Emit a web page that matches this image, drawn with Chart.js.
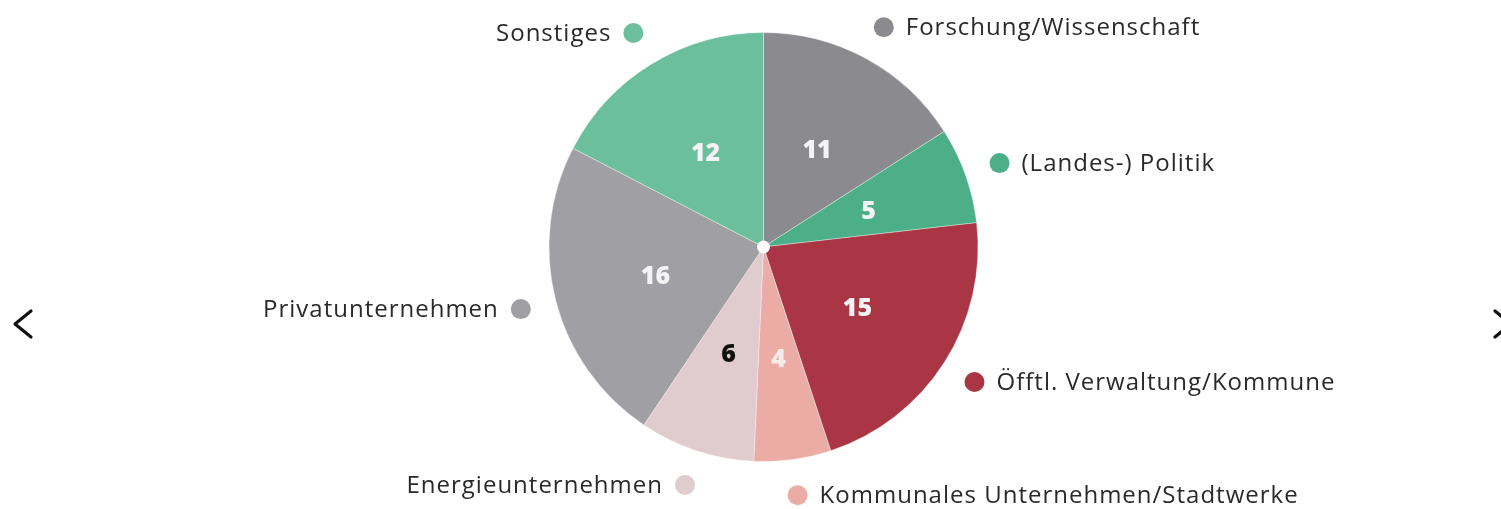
<!DOCTYPE html>
<html>
<head>
<meta charset="utf-8">
<script src="https://cdn.jsdelivr.net/npm/chart.js@4/dist/chart.umd.min.js"></script>
<style>
  html, body { margin: 0; padding: 0; background: #fff; overflow: hidden; }
  #wrap { position: relative; width: 1501px; height: 509px; }
  canvas { position: absolute; left: 0; top: 0; }
  svg.nav { position: absolute; top: 0; left: 0; }
</style>
</head>
<body>
<div id="wrap">
  <canvas id="c" width="1501" height="509"></canvas>
  <svg class="nav" width="1501" height="509">
    <polyline points="31,311 15,324 31,337" fill="none" stroke="#111" stroke-width="3.2" stroke-linecap="round" stroke-linejoin="round"/>
    <polyline points="1495,311 1511,324 1495,337" fill="none" stroke="#111" stroke-width="3.2" stroke-linecap="round" stroke-linejoin="round"/>
  </svg>
</div>
<script>
const categories = [
  'Forschung/Wissenschaft',
  '(Landes-) Politik',
  'Öfftl. Verwaltung/Kommune',
  'Kommunales Unternehmen/Stadtwerke',
  'Energieunternehmen',
  'Privatunternehmen',
  'Sonstiges'
];
const values = [11, 5, 15, 4, 6, 16, 12];
const sliceColors = ['#8b8a8e', '#4caf87', '#a93545', '#eaaca4', '#e0cbcf', '#a09fa3', '#6bbf9c'];
const valueLabelColors = ['#f4f4f4', '#f4f4f4', '#f4f4f4', '#f6ece9', '#111111', '#f4f4f4', '#f4f4f4'];

const FONT = '"Open Sans", "DejaVu Sans", sans-serif';

const labelPlugin = {
  id: 'sliceLabels',
  afterDatasetsDraw(chart) {
    const ctx = chart.ctx;
    const meta = chart.getDatasetMeta(0);
    ctx.save();
    meta.data.forEach((arc, i) => {
      const p = arc.getProps(['x', 'y', 'startAngle', 'endAngle', 'outerRadius'], true);
      const mid = (p.startAngle + p.endAngle) / 2;
      const cos = Math.cos(mid), sin = Math.sin(mid);
      // inner value
      const ri = p.outerRadius * 0.52;
      ctx.letterSpacing = '0px';
      ctx.font = '800 25px ' + FONT;
      ctx.fillStyle = valueLabelColors[i];
      ctx.textAlign = 'center';
      ctx.textBaseline = 'middle';
      ctx.fillText(String(values[i]), p.x + cos * ri, p.y + sin * ri + 2);
      // outer dot and label
      const ro = p.outerRadius + 36;
      const dx = p.x + cos * ro, dy = p.y + sin * ro;
      ctx.beginPath();
      ctx.arc(dx, dy, 10, 0, Math.PI * 2);
      ctx.fillStyle = sliceColors[i];
      ctx.fill();
      ctx.font = '400 24px ' + FONT;
      ctx.letterSpacing = '1px';
      ctx.fillStyle = '#2a2a2a';
      ctx.textBaseline = 'middle';
      if (cos >= 0) {
        ctx.textAlign = 'left';
        ctx.fillText(categories[i], dx + 22, dy + 1);
      } else {
        ctx.textAlign = 'right';
        ctx.fillText(categories[i], dx - 22, dy + 1);
      }
    });
    // center dot
    const a0 = meta.data[0];
    ctx.beginPath();
    ctx.arc(a0.x, a0.y, 6.5, 0, Math.PI * 2);
    ctx.fillStyle = '#ffffff';
    ctx.fill();
    ctx.restore();
  }
};

new Chart(document.getElementById('c'), {
  type: 'pie',
  data: {
    labels: categories,
    datasets: [{
      data: values,
      backgroundColor: sliceColors,
      borderColor: 'rgba(255,255,255,0.35)',
      borderWidth: 1
    }]
  },
  options: {
    responsive: false,
    animation: false,
    layout: { padding: { left: 548, right: 522, top: 32, bottom: 47 } },
    plugins: {
      legend: { display: false },
      tooltip: { enabled: false }
    }
  },
  plugins: [labelPlugin]
});
</script>
</body>
</html>
